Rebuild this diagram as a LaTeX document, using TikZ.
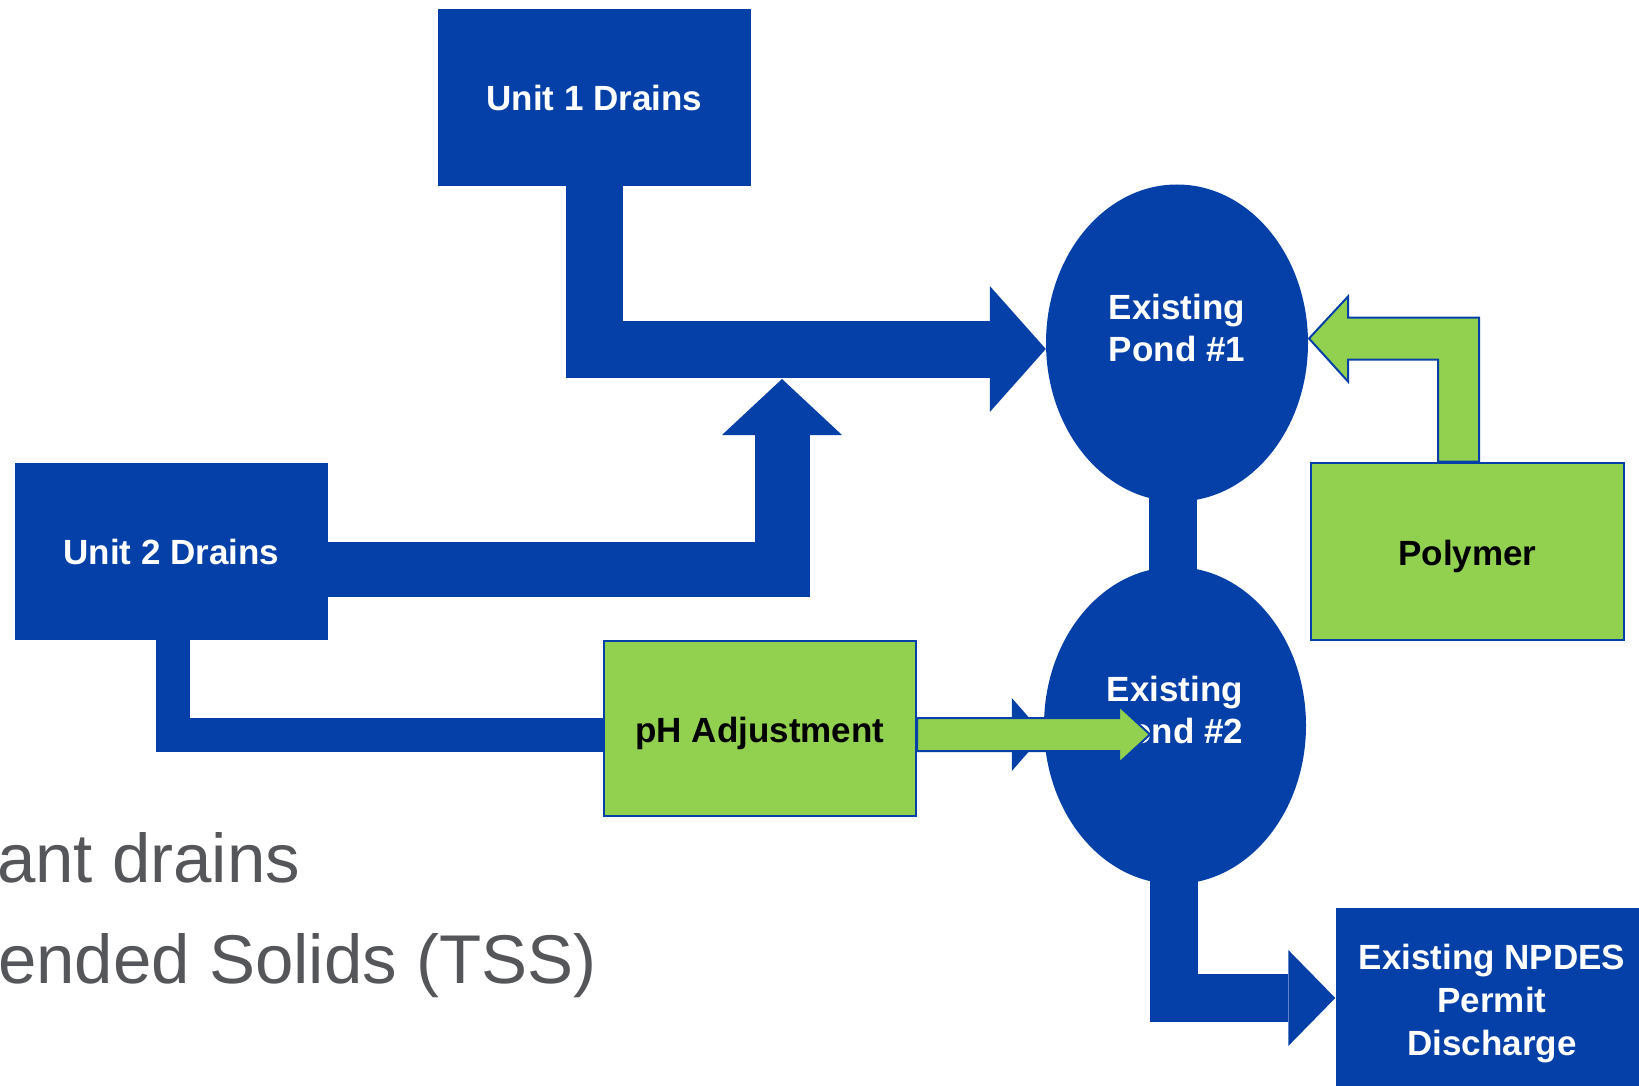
\documentclass[tikz,border=0pt]{standalone}
\usepackage{fontspec}
\setmainfont{Liberation Sans}
\usetikzlibrary{shapes.geometric, arrows.meta}
\definecolor{pipeblue}{RGB}{5,64,168}
\definecolor{chemgreen}{RGB}{146,208,80}
\definecolor{slidegray}{RGB}{85,86,90}

\begin{document}
\begin{tikzpicture}[x=1pt, y=-1pt,
	box/.style={rectangle, fill=pipeblue, text=white, minimum width=313pt, minimum height=177pt, inner sep=0pt, align=center, font=\fontsize{35}{43}\selectfont\bfseries},
	chem/.style={box, fill=chemgreen, draw=pipeblue, line width=2pt, text=black, text height=35pt, text depth=7pt},
	pond/.style={ellipse, fill=pipeblue, text=white, minimum width=262pt, minimum height=317pt, inner sep=0pt, align=center, text height=68pt, text depth=32pt, font=\fontsize{35}{42}\selectfont\bfseries},
	bullet/.style={anchor=base west, inner sep=0pt, text=slidegray, font=\fontsize{69}{80}\selectfont},
	pipe/.style={draw=pipeblue, line join=miter},
	feed/.style={fill=chemgreen, draw=pipeblue, line width=2pt, line join=miter}]

	\useasboundingbox (0,0) rectangle (1639,1086);

		\node (u1) [box] at (594.5,97.5) {Unit 1 Drains};
		\node (u2) [box] at (171.5,551.5) {Unit 2 Drains};
		\node (p1) [pond] at (1177,343) {Existing\\Pond \#1};
		\node (p2) [pond] at (1175,725.5) {Existing\\Pond \#2};
		\node (poly) [chem] at (1467.5,551) {Polymer};
		\node (npdes) [box, minimum height=180pt, text height=123pt, text depth=8pt] at (1492,998) {Existing NPDES\\Permit\\Discharge};

		\node (b1) [bullet] at (-3,882) {ant drains};
		\node (b2) [bullet] at (-2,983) {ended Solids (TSS)};

		\coordinate (merge) at (782,379);

		% blue flows
		\draw[pipe, line width=57pt, -{Triangle[length=56pt, width=126pt, line width=0pt]}]
			(u1.south) |- ([yshift=-6pt]p1.west);
		\draw[pipe, line width=55pt, -{Triangle[length=56pt, width=120pt, line width=0pt]}]
			([yshift=-18pt]u2.east) -| (merge);
		\draw[pipe, line width=34pt, -{Triangle[length=32pt, width=73pt, line width=0pt]}]
			([xshift=1pt]u2.south) |- ([yshift=-9pt]p2.west);
		\draw[pipe, line width=48pt] ([xshift=-4pt, yshift=10pt]p1.south) -- ([xshift=-4pt]p1.south |- p2.north) -- ++(0,10);
		\draw[pipe, line width=48pt, -{Triangle[length=47pt, width=96pt, line width=0pt]}]
			([xshift=-1pt, yshift=10pt]p2.south) |- (npdes.west);

		\node (ph) [chem, minimum width=312pt, minimum height=175pt] at (760,728.5) {pH Adjustment};

		% green feeds
		\draw[feed] ([yshift=-6pt]ph.east) ++(0,-16.5) -- ++(202,0) -- ++(0,-12) -- ++(31,28.5)
			-- ++(-31,28.5) -- ++(0,-12) -- ++(-202,0) -- cycle;
		\draw[feed] (poly.north) ++(-29.5,0) -- ++(0,-102) -- ++(-90,0) -- ++(0,22) -- ++(-39,-43)
			-- ++(39,-42) -- ++(0,21) -- ++(131,0) -- ++(0,144) -- cycle;

\end{tikzpicture}
\end{document}
